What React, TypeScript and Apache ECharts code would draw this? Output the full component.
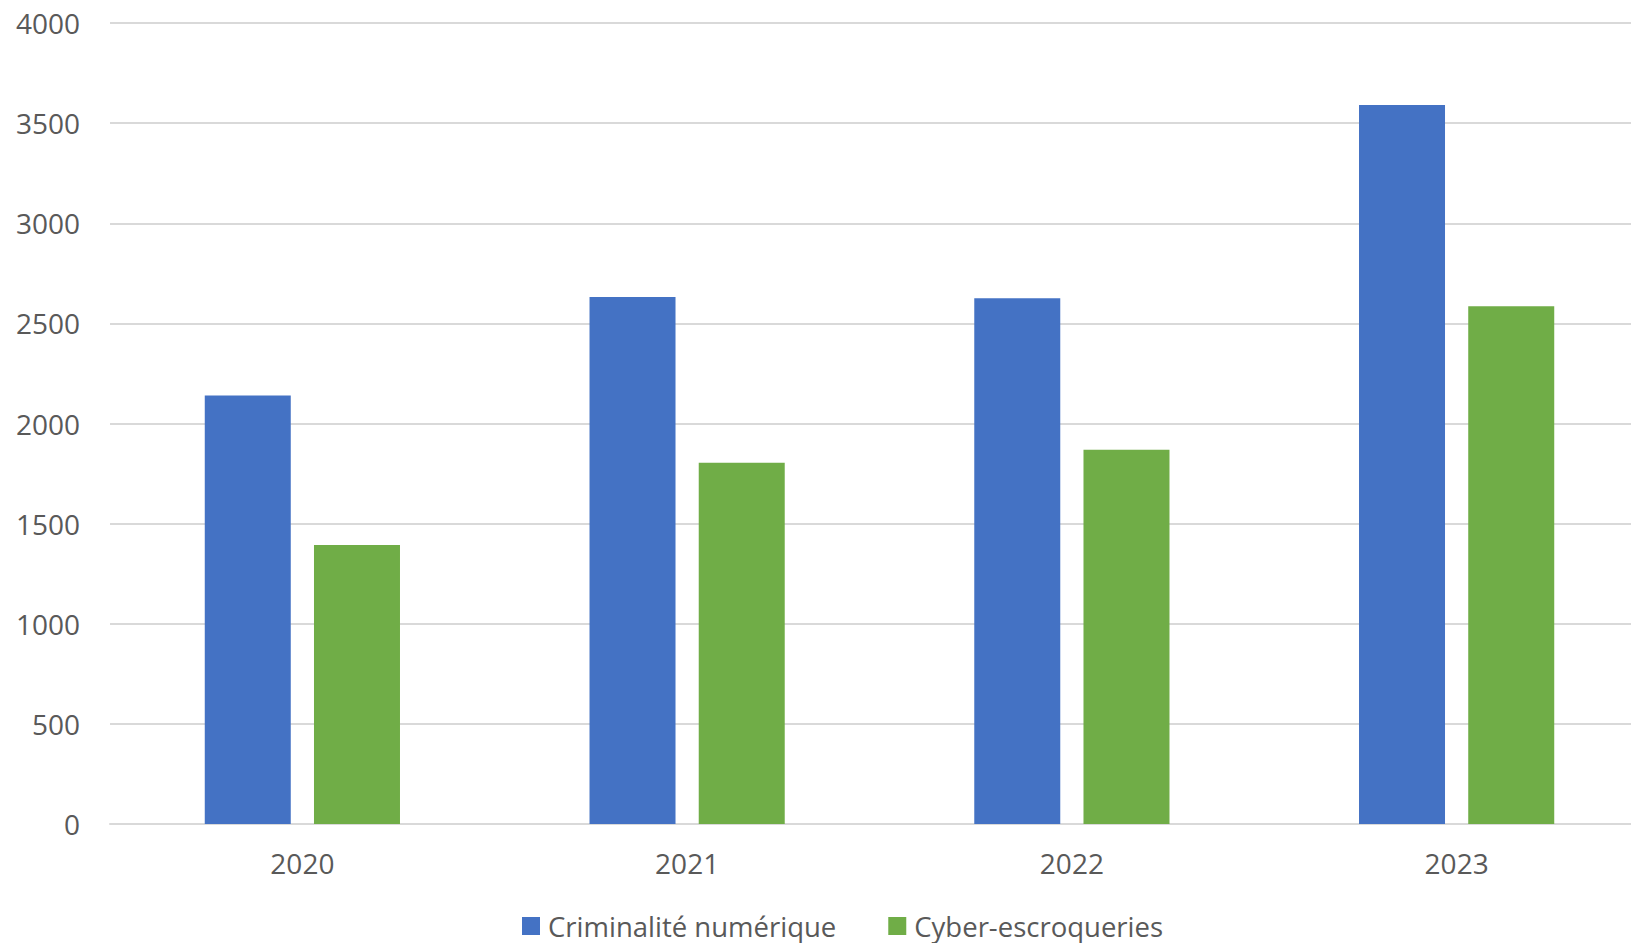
import React, { useEffect, useRef } from "react";
import * as echarts from "echarts";

const categories = ["2020", "2021", "2022", "2023"];
const criminaliteNumerique = [2140, 2632, 2625, 3590];
const cyberEscroqueries = [1393, 1804, 1869, 2585];
const seriesNames = ["Criminalité numérique", "Cyber-escroqueries"];

export default function App() {
  const ref = useRef<HTMLDivElement>(null);
  useEffect(() => {
    if (!ref.current) return;
    const chart = echarts.init(ref.current, null, { renderer: "svg" });
    chart.setOption({
      animation: false,
      backgroundColor: "#ffffff",
      grid: { left: 110, right: 0, top: 23, bottom: 119 },
      legend: {
        left: 522,
        top: 912,
        padding: 0,
        itemWidth: 18,
        itemHeight: 18,
        itemGap: 52,
        icon: "rect",
        textStyle: {
          fontFamily: "'Open Sans', sans-serif",
          fontSize: 27.5,
          color: "#595959",
          padding: [0, 0, 0, 3],
        },
        data: seriesNames,
      },
      xAxis: {
        type: "category",
        data: categories,
        axisLine: { lineStyle: { color: "#d9d9d9", width: 2 } },
        axisTick: { show: false },
        axisLabel: {
          fontFamily: "'Open Sans', sans-serif",
          fontSize: 28,
          color: "#595959",
          margin: 25,
        },
      },
      yAxis: {
        type: "value",
        min: 0,
        max: 4000,
        interval: 500,
        axisLine: { show: false },
        axisTick: { show: false },
        splitLine: { lineStyle: { color: "#d9d9d9", width: 2 } },
        axisLabel: {
          fontFamily: "'Open Sans', sans-serif",
          fontSize: 28,
          color: "#595959",
          margin: 30,
          formatter: (v: number) => String(v),
        },
      },
      series: [
        {
          name: seriesNames[0],
          type: "bar",
          data: criminaliteNumerique,
          barWidth: 86,
          barGap: "27%",
          itemStyle: { color: "#4472C4" },
        },
        {
          name: seriesNames[1],
          type: "bar",
          data: cyberEscroqueries,
          barWidth: 86,
          barGap: "27%",
          itemStyle: { color: "#70AD47" },
        },
      ],
    });
    return () => chart.dispose();
  }, []);
  return (
    <div
      style={{
        position: "fixed",
        left: 0,
        top: 0,
        width: 1631,
        height: 943,
        overflow: "hidden",
        background: "#ffffff",
      }}
    >
      <div ref={ref} style={{ width: 1649, height: 943 }} />
    </div>
  );
}
